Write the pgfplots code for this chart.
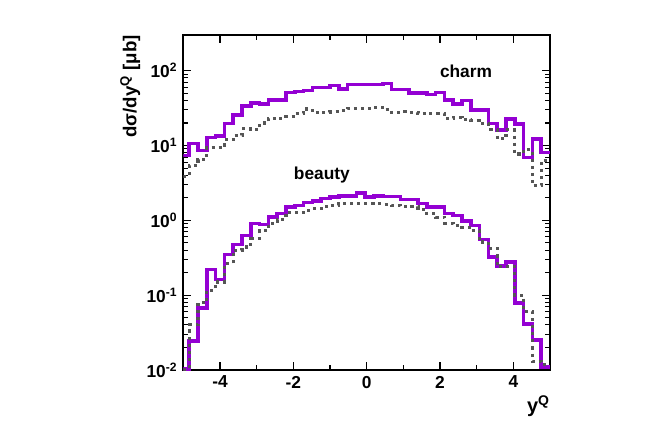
\documentclass[border=0pt]{standalone}
\usepackage{fontspec}
\setmainfont{Liberation Sans}
\usepackage{pgfplots}
\pgfplotsset{compat=1.18}
\usepackage{pgfplotstable}

\definecolor{hfviolet}{RGB}{148,0,211}
\definecolor{hfgrey}{RGB}{85,85,85}

% left bin edges; last row closes the final bin at x=5
% cp/cg: charm (violet / grey dotted), bp/bg: beauty
\pgfplotstableread{
x      cp    cg    bp      bg
-5.00  7.4   3.9   0.0103  0.0103
-4.84  10.7  5.4   0.0244  0.040
-4.60  8.6   6.5   0.0678  0.079
-4.36  12.7  9.3   0.222   0.117
-4.12  13.5  9.3   0.163   0.150
-3.88  19.8  11.9  0.352   0.264
-3.64  25.7  13.6  0.479   0.398
-3.40  33.8  16.7  0.631   0.44
-3.16  37    16.3  0.903   0.57
-2.92  36    20    0.875   0.736
-2.68  40.5  22.7  1.107   0.90
-2.44  40.5  23.1  1.23    1.02
-2.20  51.4  24.6  1.51    1.29
-1.96  53    27    1.58    1.29
-1.72  54    30.8  1.72    1.36
-1.48  60    27.5  1.81    1.43
-1.24  60    28    1.95    1.51
-1.00  63    28.7  2.05    1.58
-0.76  57    29.5  2.11    1.67
-0.52  65    31.5  2.11    1.67
-0.28  65    31.5  2.31    1.67
-0.04  65    31.5  2.05    1.67
0.20   65    32.5  2.13    1.67
0.44   68    30    2.08    1.63
0.68   56    27.8  2.10    1.58
0.92   56    28.5  1.90    1.55
1.16   50    28    1.90    1.51
1.40   50    27    1.67    1.39
1.64   48    26.5  1.51    1.23
1.88   51    26.5  1.51    1.10
2.12   40.7  23.1  1.23    0.92
2.36   36    23.9  1.17    0.86
2.60   40    22    0.98    0.80
2.84   30    21.5  0.86    0.736
3.08   30    19.5  0.553   0.514
3.32   19.8  16.5  0.324   0.42
3.56   16.2  12.3  0.244   0.239
3.80   22.7  16.2  0.278   0.239
4.04   19.5  7.7   0.079   0.10
4.28   6.9   8.8   0.041   0.06
4.52   12.3  2.9   0.0251  0.013
4.76   8.1   6.3   0.011   0.012
5.00   8.1   6.3   0.011   0.012
}\ydist

\begin{document}
\begin{tikzpicture}
\useasboundingbox (-137.5pt,-41.25pt) rectangle (361.25pt,277.5pt);
\begin{axis}[
  name=ax, at={(0,0)}, anchor=south west,
  scale only axis, width=275pt, height=251.25pt,
  xmin=-5, xmax=5, ymin=0.01, ymax=300, ymode=log,
  xtick={-4,-2,0,2,4}, xticklabels={-4,-2,0,2,4},
  minor xtick={-3,-1,1,3},
  ytick={0.01,0.1,1,10,100},
  yticklabels={10\textsuperscript{-2},10\textsuperscript{-1},10\textsuperscript{0},10\textsuperscript{1},10\textsuperscript{2}},
  tick align=inside,
  major tick length=6pt, minor tick length=3.5pt,
  axis line style={line width=1.4pt},
  tick style={black, line width=0.8pt},
  tick label style={font=\fontsize{13}{15}\selectfont\bfseries},
  xticklabel style={yshift=-1pt},
  yticklabel style={xshift=-1pt},
]
  \addplot[const plot, hfviolet, line width=2.6pt] table[x=x, y=cp] {\ydist};
  \addplot[const plot, hfviolet, line width=2.6pt] table[x=x, y=bp] {\ydist};
  \addplot[const plot, hfgrey, line width=2.3pt, line cap=butt,
    dash pattern=on 2.3pt off 3pt] table[x=x, y=cg] {\ydist};
  \addplot[const plot, hfgrey, line width=2.3pt, line cap=butt,
    dash pattern=on 2.3pt off 3pt] table[x=x, y=bg] {\ydist};
  \node[font=\fontsize{13}{15}\selectfont\bfseries] at (axis cs:2.71,97) {charm};
  \node[font=\fontsize{13}{15}\selectfont\bfseries] at (axis cs:-1.22,3.98) {beauty};
\end{axis}
\node[rotate=90, anchor=north east, inner sep=0pt,
  font=\fontsize{14}{16}\selectfont\bfseries]
  at ([xshift=-47.5pt]ax.north west) {dσ/dy\textsuperscript{Q} [μb]};
\node[anchor=north east, inner sep=0pt,
  font=\fontsize{15}{17}\selectfont\bfseries]
  at ([yshift=-19pt]ax.south east) {y\textsuperscript{Q}};
\end{tikzpicture}
\end{document}
